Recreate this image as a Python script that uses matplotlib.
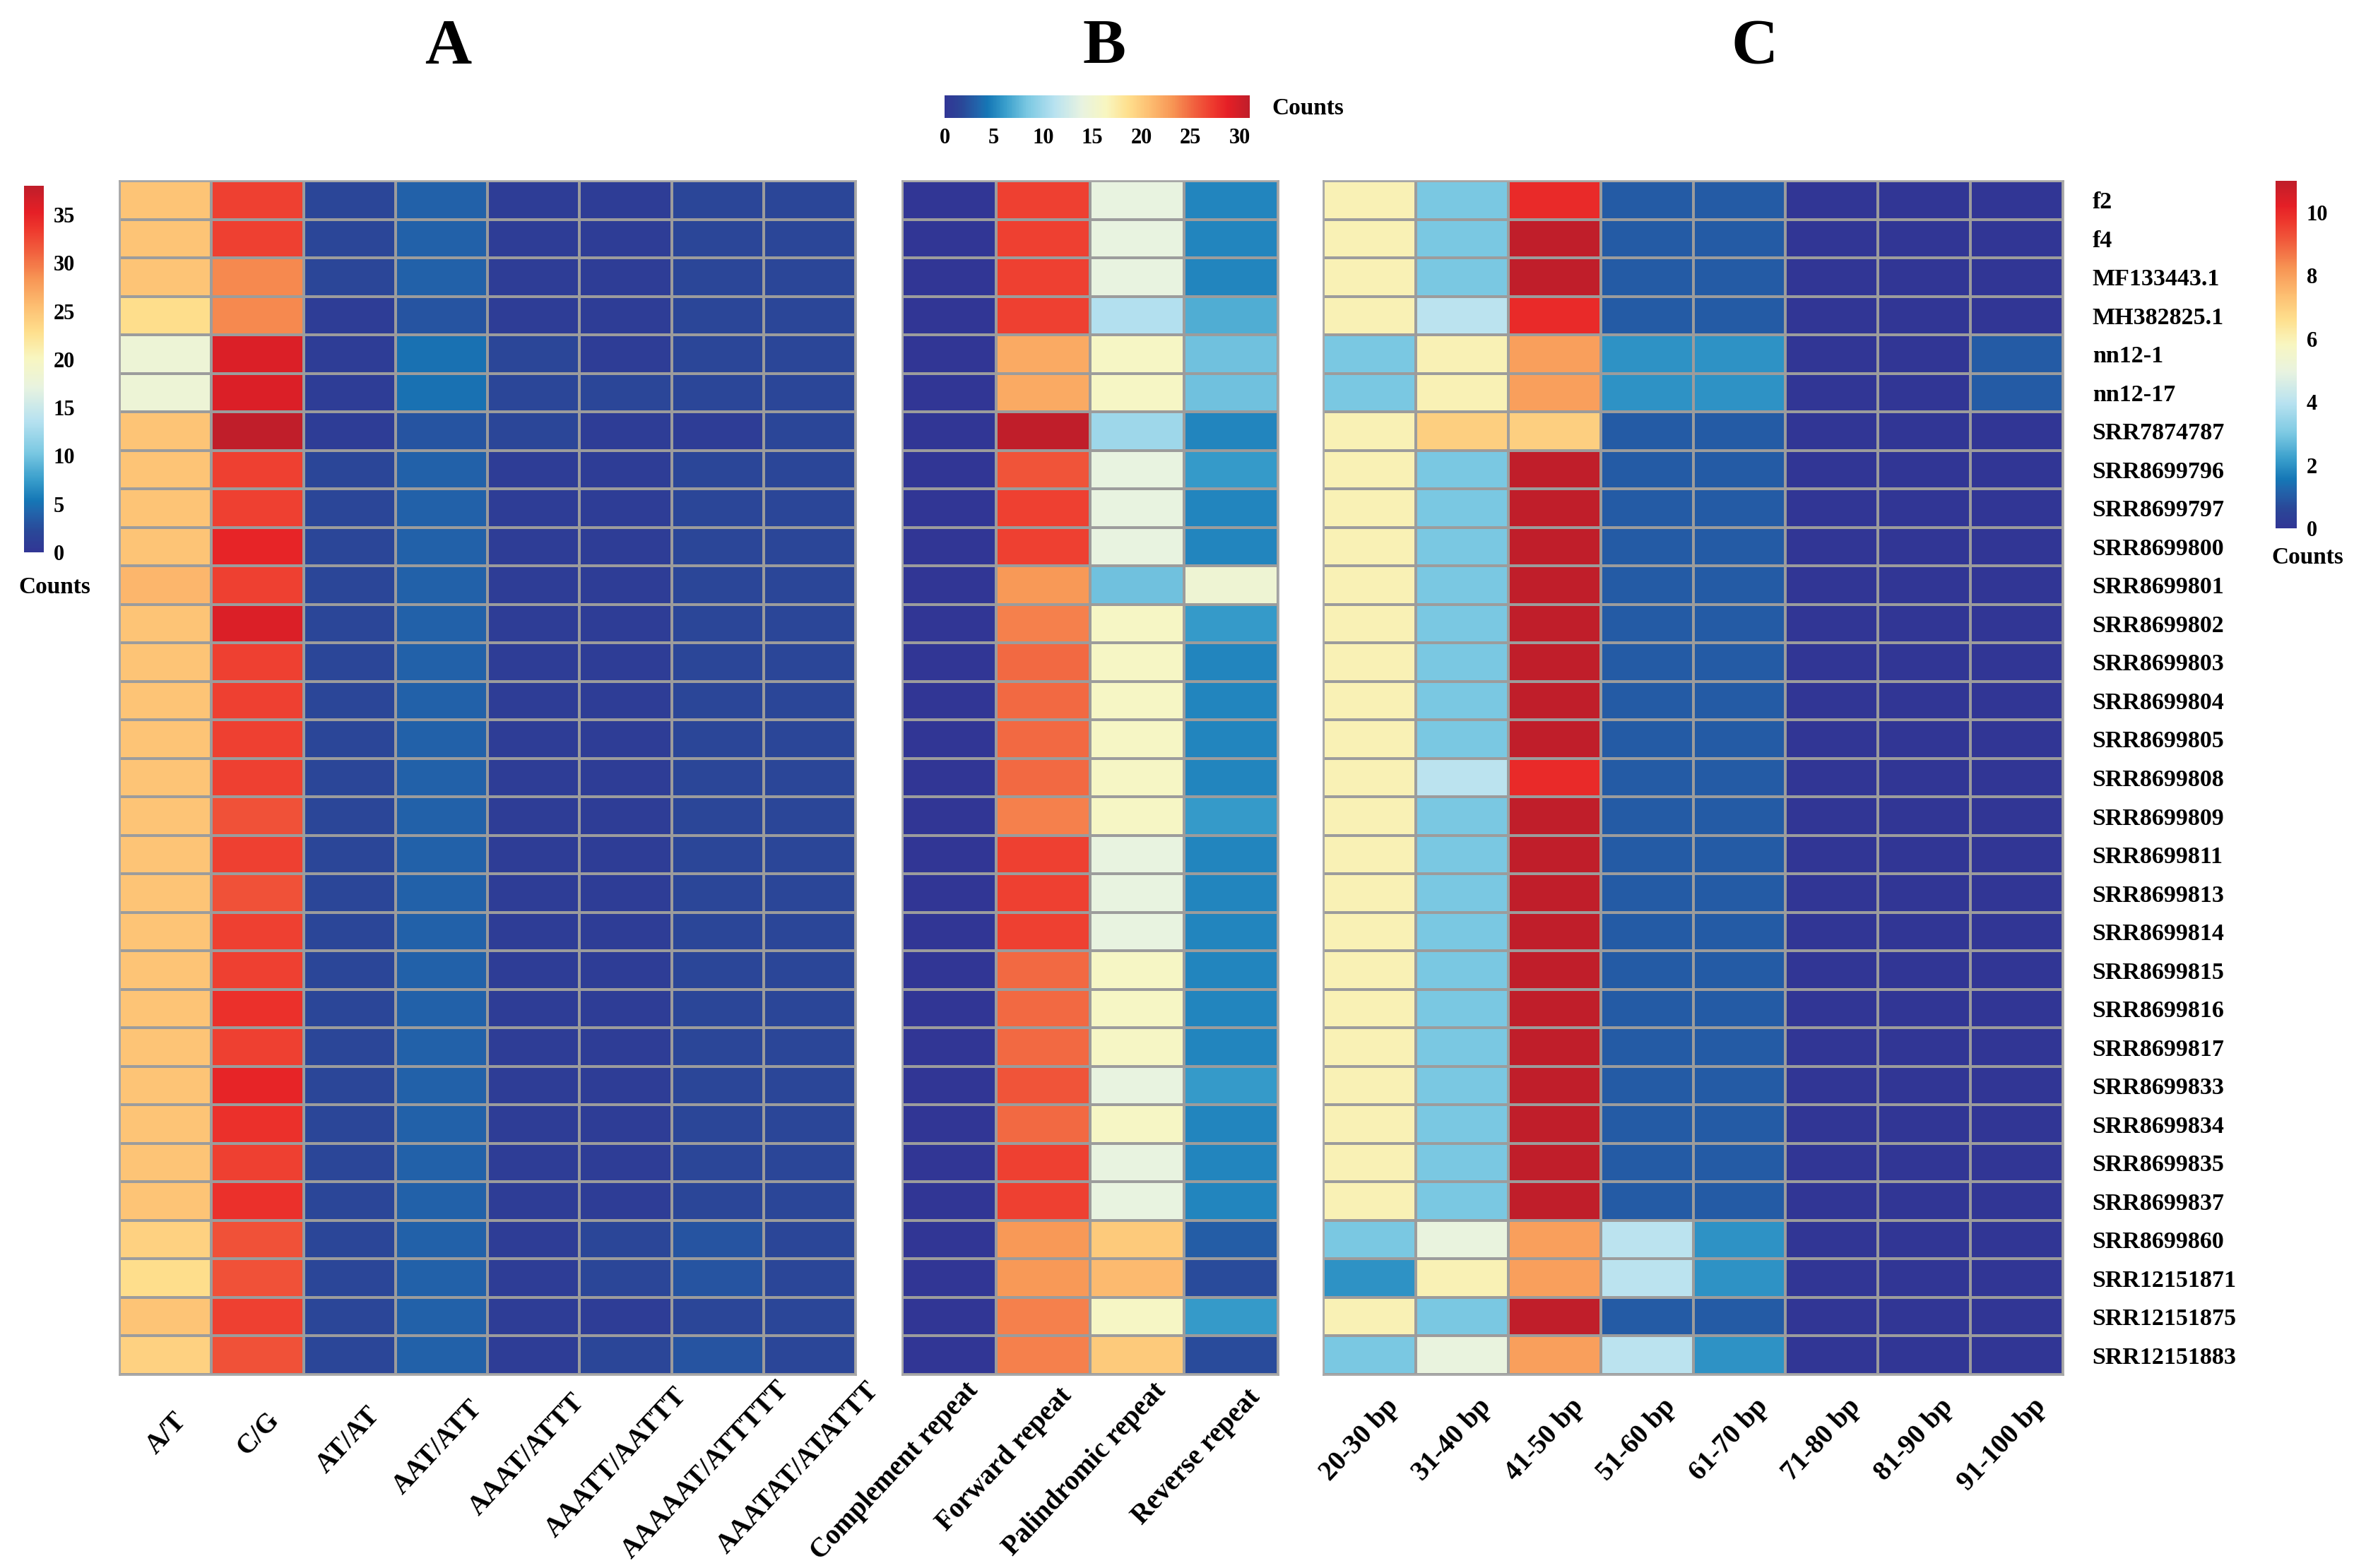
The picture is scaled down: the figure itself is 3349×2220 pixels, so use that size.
import numpy as np
import matplotlib
matplotlib.use("Agg")
import matplotlib.pyplot as plt
from matplotlib.colors import LinearSegmentedColormap
from matplotlib.transforms import offset_copy

plt.rcParams["font.family"] = ["Liberation Serif", "DejaVu Serif"]
plt.rcParams["font.weight"] = "bold"

samples = ["f2", "f4", "MF133443.1", "MH382825.1", "nn12-1", "nn12-17", "SRR7874787",
           "SRR8699796", "SRR8699797", "SRR8699800", "SRR8699801", "SRR8699802",
           "SRR8699803", "SRR8699804", "SRR8699805", "SRR8699808", "SRR8699809",
           "SRR8699811", "SRR8699813", "SRR8699814", "SRR8699815", "SRR8699816",
           "SRR8699817", "SRR8699833", "SRR8699834", "SRR8699835", "SRR8699837",
           "SRR8699860", "SRR12151871", "SRR12151875", "SRR12151883"]

# panel A: SSR motif types
ssr_types = ["A/T", "C/G", "AT/AT", "AAT/ATT", "AAAT/ATTT", "AAATT/AATTT",
             "AAAAAT/ATTTTT", "AAATAT/ATATTT"]
ssr_a_t = [25, 25, 25, 23, 18, 18, 25, 25, 25, 25, 26, 25, 25, 25, 25, 25,
           25, 25, 25, 25, 25, 25, 25, 25, 25, 25, 25, 24, 23, 25, 24]
ssr_c_g = [33, 33, 29, 29, 36, 36, 38, 33, 33, 35, 33, 36, 33, 33, 33, 33,
           32, 33, 32, 33, 33, 34, 33, 35, 34, 33, 34, 32, 32, 33, 32]
ssr_at = [2, 2, 2, 1, 1, 1, 1, 2, 2, 2, 2, 2, 2, 2, 2, 2,
          2, 2, 2, 2, 2, 2, 2, 2, 2, 2, 2, 2, 2, 2, 2]
ssr_aat = [4, 4, 4, 3, 5, 5, 3, 4, 4, 4, 4, 4, 4, 4, 4, 4,
           4, 4, 4, 4, 4, 4, 4, 4, 4, 4, 4, 4, 4, 4, 4]
ssr_aaat = [1, 1, 1, 1, 2, 2, 2, 1, 1, 1, 1, 1, 1, 1, 1, 1,
            1, 1, 1, 1, 1, 1, 1, 1, 1, 1, 1, 1, 1, 1, 1]
ssr_aaatt = [1, 1, 1, 1, 1, 2, 1, 1, 1, 1, 1, 1, 1, 1, 1, 1,
             1, 1, 1, 1, 1, 1, 1, 1, 1, 1, 1, 2, 2, 1, 2]
ssr_aaaaat = [2, 2, 2, 2, 2, 2, 1, 2, 2, 2, 2, 2, 2, 2, 2, 2,
              2, 2, 2, 2, 2, 2, 2, 2, 2, 2, 2, 3, 3, 2, 3]
ssr_aaatat = [2, 2, 2, 2, 2, 2, 2, 2, 2, 2, 2, 2, 2, 2, 2, 2,
              2, 2, 2, 2, 2, 2, 2, 2, 2, 2, 2, 2, 2, 2, 2]

# panel B: long repeat types
rep_types = ["Complement repeat", "Forward repeat", "Palindromic repeat", "Reverse repeat"]
rep_complement = [0, 0, 0, 0, 0, 0, 0, 0, 0, 0, 0, 0, 0, 0, 0, 0,
                  0, 0, 0, 0, 0, 0, 0, 0, 0, 0, 0, 0, 0, 0, 0]
rep_forward = [27, 27, 27, 27, 22, 22, 31, 26, 27, 27, 23, 24, 25, 25, 25, 25,
               24, 27, 27, 27, 25, 25, 25, 26, 25, 27, 27, 23, 23, 24, 24]
rep_palindromic = [14, 14, 14, 11, 16, 16, 10, 14, 14, 14, 8, 16, 16, 16, 16, 16,
                   16, 14, 14, 14, 16, 16, 16, 14, 16, 14, 14, 20, 21, 16, 20]
rep_reverse = [5, 5, 5, 7, 8, 8, 5, 6, 5, 5, 15, 6, 5, 5, 5, 5,
               6, 5, 5, 5, 5, 5, 5, 6, 5, 5, 5, 3, 2, 6, 2]

# panel C: repeat length classes
len_classes = ["20-30 bp", "31-40 bp", "41-50 bp", "51-60 bp", "61-70 bp",
               "71-80 bp", "81-90 bp", "91-100 bp"]
len_20_30 = [6, 6, 6, 6, 3, 3, 6, 6, 6, 6, 6, 6, 6, 6, 6, 6,
             6, 6, 6, 6, 6, 6, 6, 6, 6, 6, 6, 3, 2, 6, 3]
len_31_40 = [3, 3, 3, 4, 6, 6, 7, 3, 3, 3, 3, 3, 3, 3, 3, 4,
             3, 3, 3, 3, 3, 3, 3, 3, 3, 3, 3, 5, 6, 3, 5]
len_41_50 = [10, 11, 11, 10, 8, 8, 7, 11, 11, 11, 11, 11, 11, 11, 11, 10,
             11, 11, 11, 11, 11, 11, 11, 11, 11, 11, 11, 8, 8, 11, 8]
len_51_60 = [1, 1, 1, 1, 2, 2, 1, 1, 1, 1, 1, 1, 1, 1, 1, 1,
             1, 1, 1, 1, 1, 1, 1, 1, 1, 1, 1, 4, 4, 1, 4]
len_61_70 = [1, 1, 1, 1, 2, 2, 1, 1, 1, 1, 1, 1, 1, 1, 1, 1,
             1, 1, 1, 1, 1, 1, 1, 1, 1, 1, 1, 2, 2, 1, 2]
len_71_80 = [0, 0, 0, 0, 0, 0, 0, 0, 0, 0, 0, 0, 0, 0, 0, 0,
             0, 0, 0, 0, 0, 0, 0, 0, 0, 0, 0, 0, 0, 0, 0]
len_81_90 = [0, 0, 0, 0, 0, 0, 0, 0, 0, 0, 0, 0, 0, 0, 0, 0,
             0, 0, 0, 0, 0, 0, 0, 0, 0, 0, 0, 0, 0, 0, 0]
len_91_100 = [0, 0, 0, 0, 1, 1, 0, 0, 0, 0, 0, 0, 0, 0, 0, 0,
              0, 0, 0, 0, 0, 0, 0, 0, 0, 0, 0, 0, 0, 0, 0]

mat_a = np.column_stack([ssr_a_t, ssr_c_g, ssr_at, ssr_aat, ssr_aaat, ssr_aaatt,
                         ssr_aaaaat, ssr_aaatat])
mat_b = np.column_stack([rep_complement, rep_forward, rep_palindromic, rep_reverse])
mat_c = np.column_stack([len_20_30, len_31_40, len_41_50, len_51_60, len_61_70,
                         len_71_80, len_81_90, len_91_100])

# blue -> pale yellow -> red ramp
cmap = LinearSegmentedColormap.from_list("counts", [
    (0.00, "#313695"), (0.055, "#2a4798"), (0.11, "#2166ac"), (0.14, "#1577b6"),
    (0.20, "#3a9fcc"), (0.27, "#7ac8e2"), (0.36, "#b8e2f0"), (0.45, "#e8f3e0"),
    (0.53, "#f8f6c0"), (0.60, "#fee08e"), (0.67, "#fdbf72"), (0.75, "#f79454"),
    (0.82, "#f1603e"), (0.88, "#ee3a2e"), (0.93, "#e51f26"), (1.00, "#c01e2a"),
])

W, H = 3349, 2220
fig = plt.figure(figsize=(W / 100, H / 100), dpi=100)


def frac(x0, y0, x1, y1):
    return [x0 / W, 1 - y1 / H, (x1 - x0) / W, (y1 - y0) / H]


grid_top, grid_bot = 256, 1946
edge = "#9c9c9c"


def heat(rect, mat, vmax, xlabels, right_labels=None):
    ax = fig.add_axes(rect)
    nr, nc = mat.shape
    m = ax.pcolormesh(np.arange(nc + 1), np.arange(nr + 1), mat, cmap=cmap,
                      vmin=0, vmax=vmax, edgecolors=edge, linewidth=1.6)
    ax.set_xlim(0, nc)
    ax.set_ylim(nr, 0)
    ax.set_xticks([])
    # column labels drawn as texts so each one can be nudged afterwards
    texts = [ax.text(i + 0.5, 0, lab, transform=ax.get_xaxis_transform(),
                     rotation=47, ha="right", va="center", rotation_mode="anchor",
                     fontsize=28, fontweight="bold")
             for i, lab in enumerate(xlabels)]
    if right_labels is not None:
        ax.yaxis.tick_right()
        ax.set_yticks(np.arange(nr) + 0.5)
        ax.set_yticklabels(right_labels, fontsize=24.5, fontweight="bold")
        ax.tick_params(axis="y", length=0, pad=30)
    else:
        ax.set_yticks([])
    for s in ax.spines.values():
        s.set_color("#a8a8a8")
        s.set_linewidth(2)
    return m, ax, texts


m_a, ax_a, txt_a = heat(frac(169, grid_top, 1211, grid_bot), mat_a, 38, ssr_types)
m_b, ax_b, txt_b = heat(frac(1277, grid_top, 1809, grid_bot), mat_b, 31, rep_types)
m_c, ax_c, txt_c = heat(frac(1873, grid_top, 2920, grid_bot), mat_c, 11, len_classes,
                        samples)

# place label ends the way the reference does (offsets in pixels, per panel)
fig.canvas.draw()
rend = fig.canvas.get_renderer()
for texts, ax, ax_w, cx, bx, cy, by in [
        (txt_a, ax_a, 0, -5, 0.40, 78, -0.25),
        (txt_b, ax_b, 0, 35, 0.0, 62, -0.18),
        (txt_c, ax_c, 0, 35, 0.0, 40, 0.0)]:
    for t in texts:
        w = t.get_window_extent(rend).width
        dx = cx + bx * w
        dy = -(cy + by * w)
        t.set_transform(offset_copy(ax.get_xaxis_transform(), fig=fig,
                                    x=dx, y=dy, units="dots"))

# colour keys
cax_a = fig.add_axes(frac(34, 263, 62, 782))
cb_a = fig.colorbar(m_a, cax=cax_a, ticks=[0, 5, 10, 15, 20, 25, 30, 35])
cax_b = fig.add_axes(frac(1337, 135, 1769, 167))
cb_b = fig.colorbar(m_b, cax=cax_b, orientation="horizontal",
                    ticks=[0, 5, 10, 15, 20, 25, 30])
cax_c = fig.add_axes(frac(3221, 256, 3251, 748))
cb_c = fig.colorbar(m_c, cax=cax_c, ticks=[0, 2, 4, 6, 8, 10])
for cb in (cb_a, cb_b, cb_c):
    cb.outline.set_visible(False)
    cb.ax.tick_params(length=0, labelsize=22, pad=10)
    for t in cb.ax.get_xticklabels() + cb.ax.get_yticklabels():
        t.set_fontweight("bold")

fig.text(77 / W, 1 - 831 / H, "Counts", ha="center", va="center", fontsize=24,
         fontweight="bold")
fig.text(1800 / W, 1 - 154 / H, "Counts", ha="left", va="center", fontsize=24,
         fontweight="bold")
fig.text(3266 / W, 1 - 790 / H, "Counts", ha="center", va="center", fontsize=24,
         fontweight="bold")

for lab, x in [("A", 634), ("B", 1563), ("C", 2484)]:
    fig.text(x / W, 1 - 68 / H, lab, ha="center", va="center", fontsize=66,
             fontweight="bold")

fig.savefig("out.png", dpi=100, facecolor="white")
